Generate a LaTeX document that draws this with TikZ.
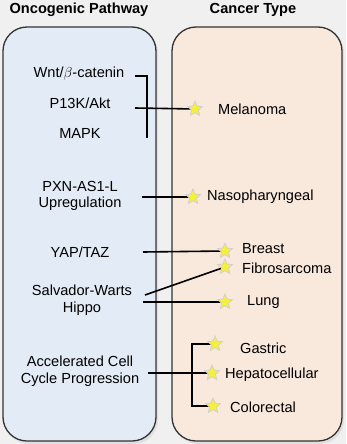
\documentclass[tikz,border=0pt]{standalone}
\usepackage{fontspec}
\setmainfont{Liberation Sans}
\usetikzlibrary{shapes.geometric}
\definecolor{bgc}{HTML}{F0F0F0}
\definecolor{leftc}{HTML}{E2EBF6}
\definecolor{rightc}{HTML}{F9E8DC}
\definecolor{starc}{HTML}{F7F03A}
\tikzset{
  panel/.style={draw=black!80, line width=1.3pt, rounded corners=24pt},
  lbl/.style={font=\fontsize{14.6}{16.5}\selectfont, inner sep=0pt, align=center},
  ttl/.style={font=\fontsize{14.6}{16.5}\selectfont\bfseries, inner sep=0pt},
  cancer/.style={font=\fontsize{14.6}{16.5}\selectfont, inner sep=0pt, anchor=west},
  mark star/.style={star, star points=5, star point ratio=2.2, minimum size=15.5pt, inner sep=0pt, fill=starc, draw=black!18, line width=0.7pt},
  conn/.style={line width=1.6pt, black}
}
\begin{document}
\begin{tikzpicture}[x=1pt,y=-1pt]
\useasboundingbox (0,0) rectangle (346,444);
\fill[bgc] (0,0) rectangle (346,444);
% shadows
\fill[black!12, rounded corners=24pt] (5,29) rectangle (158,444);
\fill[black!12, rounded corners=24pt] (174,29) rectangle (344,444);
\draw[panel, fill=leftc] (3,27) rectangle (156,441);
\draw[panel, fill=rightc] (172,27) rectangle (342,441);
% titles
\node[ttl] (t1) at (79,10) {Oncogenic Pathway};
\node[ttl] (t2) at (253,10) {Cancer Type};
% pathways
\node[lbl] (wnt) at (79,74) {Wnt/$\beta$-catenin};
\node[lbl] (pi3k) at (80,103) {P13K/Akt};
\node[lbl] (mapk) at (80,133) {MAPK};
\node[lbl] (pxn) at (80,196) {PXN-AS1-L\\Upregulation};
\node[lbl] (yap) at (80,252) {YAP/TAZ};
\node[lbl] (sw) at (82,300) {Salvador-Warts\\Hippo};
\node[lbl] (acc) at (80,371) {Accelerated Cell\\Cycle Progression};
% stars
\node[mark star] (smel) at (195,109) {};
\node[mark star] (snas) at (193,197) {};
\node[mark star] (sbre) at (225,251) {};
\node[mark star] (sfib) at (225,267) {};
\node[mark star] (slun) at (225,302) {};
\node[mark star] (sgas) at (215,344) {};
\node[mark star] (shep) at (212,373) {};
\node[mark star] (scol) at (213,406) {};
% cancer labels
\node[cancer] (mel) at (218,109) {Melanoma};
\node[cancer] (nas) at (207,197) {Nasopharyngeal};
\node[cancer] (bre) at (242,249) {Breast};
\node[cancer] (fib) at (242,268) {Fibrosarcoma};
\node[cancer] (lun) at (247,302) {Lung};
\node[cancer] (gas) at (240,348) {Gastric};
\node[cancer] (hep) at (225,375) {Hepatocellular};
\node[cancer] (col) at (230,407) {Colorectal};
% connector coordinates
\coordinate (wntA) at (135,76);
\coordinate (wntB) at (147,76);
\coordinate (wntC) at (147,138);
\coordinate (pA) at (135,108);
\coordinate (pxA) at (142,197);
\coordinate (yA) at (143,252);
\coordinate (swA) at (145,295);
\coordinate (hA) at (143,302);
\coordinate (aA) at (148,373);
\coordinate (bT) at (192,344);
\coordinate (bM) at (192,373);
\coordinate (bB) at (192,406);
% connectors
\draw[conn] (wntA) -- (wntB) -- (wntC);
\draw[conn] (pA) -- (smel.center);
\draw[conn] (pxA) -- (snas.center);
\draw[conn] (yA) -- (sbre.center);
\draw[conn] (swA) -- (sfib.center);
\draw[conn] (hA) -- (slun.center);
\draw[conn] (aA) -- (shep.center);
\draw[conn] (sgas.center) -- (bT) -- (bB) -- (scol.center);
% redraw stars on top
\node[mark star] at (smel) {};
\node[mark star] at (snas) {};
\node[mark star] at (sbre) {};
\node[mark star] at (sfib) {};
\node[mark star] at (slun) {};
\node[mark star] at (sgas) {};
\node[mark star] at (shep) {};
\node[mark star] at (scol) {};
\end{tikzpicture}
\end{document}
